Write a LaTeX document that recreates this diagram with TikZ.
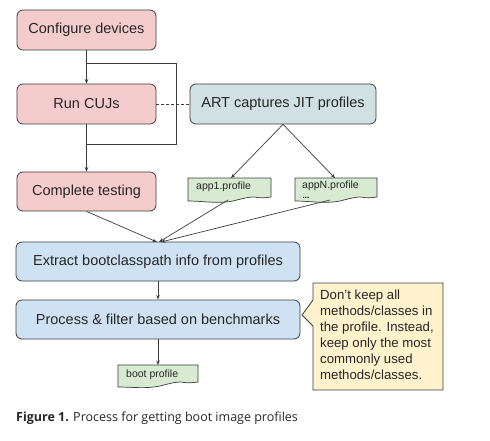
\documentclass[tikz,border=0pt]{standalone}
\usepackage{fontspec}
\setmainfont{Liberation Sans}
\newfontfamily\capfont{Open Sans}
\usetikzlibrary{calc,arrows.meta,backgrounds}
\definecolor{pinkf}{HTML}{F4CCCC}
\definecolor{tealf}{HTML}{D0E0E3}
\definecolor{bluef}{HTML}{CFE2F3}
\definecolor{greenf}{HTML}{D9EAD3}
\definecolor{notef}{HTML}{FFF2CC}
\definecolor{edge}{HTML}{3C3C3C}
\tikzset{
  box/.style={draw=edge, line width=0.8pt, rounded corners=6pt, inner sep=0pt,
    font=\fontsize{14.5}{17}\selectfont, text=black!85},
  pinkbox/.style={box, fill=pinkf, minimum width=139pt, minimum height=40pt},
  bluebox/.style={box, fill=bluef, minimum width=284pt, minimum height=39pt},
  doclabel/.style={inner sep=0pt, font=\fontsize{10.5}{12}\selectfont, text=black!85, anchor=west},
  docshape/.style={draw=edge, line width=0.7pt, fill=greenf},
  arr/.style={draw=edge, line width=0.7pt, -{Stealth[length=4.5pt,width=3.5pt]}},
  ln/.style={draw=edge, line width=0.9pt},
}
\begin{document}
\begin{tikzpicture}[x=1pt,y=-1pt]
\useasboundingbox (0,0) rectangle (490,441);

% main boxes
\node[pinkbox] (conf) at (86.5,30) {Configure devices};
\node[pinkbox] (run) at (86.5,104) {Run CUJs};
\node[pinkbox, minimum height=39pt] (comp) at (86.5,191.5) {Complete testing};
\node[box, fill=tealf, minimum width=186pt, minimum height=40pt] (art) at (283,104) {ART captures JIT profiles};
\node[bluebox] (extract) at (158,261.5) {Extract bootclasspath info from profiles};
\node[bluebox] (process) at (158,319.5) {Process \& filter based on benchmarks};

% document shapes
\coordinate (a1tl) at (188,178); \coordinate (a1tr) at (271,178);
\coordinate (aNtl) at (295,178); \coordinate (aNtr) at (377,178);
\coordinate (btl) at (118,365);  \coordinate (btr) at (198,365);
\path[docshape] (a1tl) -- (a1tr) -- ++(0,19) .. controls +(-22,3) and +(30,-8) .. ($(a1tl)+(45,23)$) .. controls +(-15,3) and +(15,0) .. ($(a1tl)+(0,23)$) -- cycle;
\path[docshape] (aNtl) -- (aNtr) -- ++(0,19) .. controls +(-22,3) and +(30,-8) .. ($(aNtl)+(45,23)$) .. controls +(-15,3) and +(15,0) .. ($(aNtl)+(0,23)$) -- cycle;
\path[docshape] (btl) -- (btr) -- ++(0,17) .. controls +(-22,3) and +(30,-8) .. ($(btl)+(42,21)$) .. controls +(-15,3) and +(15,0) .. ($(btl)+(0,22)$) -- cycle;
\node[doclabel] (app1) at (196,186.5) {app1.profile};
\node[doclabel] (appN) at (302,185.5) {appN.profile};
\node[inner sep=0pt, font=\fontsize{8}{8}\selectfont\bfseries, anchor=west] (dots) at (302.5,197.5) {...};
\node[doclabel] (boot) at (126,375) {boot profile};

% note callout
\coordinate (n1) at (313,283); \coordinate (n2) at (443,283);
\coordinate (n3) at (443,390); \coordinate (n4) at (313,390);
\coordinate (ntip) at (302,315);
\path[draw=edge, line width=0.8pt, fill=notef] (n1) -- (n2) -- (n3) -- (n4) -- (313,326) -- (ntip) -- (313,300) -- cycle;
\node[inner sep=0pt, anchor=north west, align=left, font=\fontsize{13.2}{16}\selectfont, text=black!85] (note) at (320,289.5)
 {Don’t keep all\\methods/classes in\\the profile. Instead,\\keep only the most\\commonly used\\methods/classes.};

% connectors
\draw[arr] (conf.south) -- (run.north);
\coordinate (lt) at (86.5,63); \coordinate (rt) at (176,63);
\coordinate (rb) at (176,144); \coordinate (lb) at (86.5,144);
\draw[ln] (lt) -- (rt) -- (rb) -- (lb);
\draw[arr] (run.south) -- (comp.north);
\draw[ln, dash pattern=on 3pt off 2pt] (run.east) -- (art.west);
\coordinate (a1top) at (231,178); \coordinate (aNtop) at (335,178);
\draw[arr] (art.south) -- (a1top);
\draw[arr] (art.south) -- (aNtop);
\coordinate (a1bot) at (228,200); \coordinate (aNbot) at (330,200);
\coordinate (e1) at (157,242); \coordinate (e2) at (159,242); \coordinate (e3) at (161,242);
\draw[arr] (comp.south) -- (e1);
\draw[arr] (a1bot) -- (e2);
\draw[arr] (aNbot) -- (e3);
\draw[arr] (extract.south) -- (process.north);
\coordinate (btop) at (158,365);
\draw[arr] (process.south) -- (btop);

% caption
\node[inner sep=0pt, anchor=west, font=\capfont\fontsize{12.5}{15}\selectfont, text=black!85] (cap) at (16,418)
 {\textbf{Figure 1.} Process for getting boot image profiles};
\end{tikzpicture}
\end{document}
